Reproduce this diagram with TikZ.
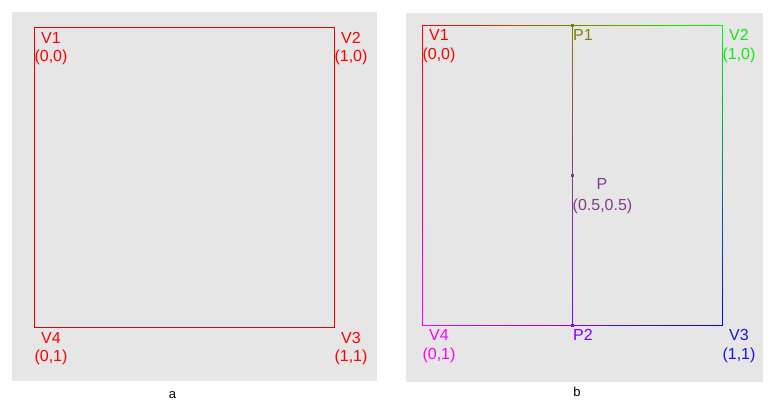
\documentclass[tikz,border=0pt]{standalone}
\usepackage{fontspec}
\setmainfont{Liberation Sans}
\definecolor{bggray}{RGB}{230,230,230}
\definecolor{vred}{RGB}{235,0,0}
\definecolor{cred}{RGB}{255,0,0}
\definecolor{cgreen}{RGB}{0,255,0}
\definecolor{cblue}{RGB}{0,0,255}
\definecolor{cmag}{RGB}{255,0,255}
\definecolor{colive}{RGB}{128,128,0}
\definecolor{cpurp}{RGB}{128,0,255}
\definecolor{cmid}{RGB}{128,64,128}
\definecolor{lgreen}{RGB}{20,230,20}
\definecolor{lblue}{RGB}{20,20,235}
\begin{document}
\begin{tikzpicture}[x=1pt,y=-1pt,
  lbl/.style={font=\fontsize{16}{16}\selectfont, inner sep=0pt, anchor=base},
  captext/.style={font=\fontsize{13}{13}\selectfont, inner sep=0pt, anchor=base, text=black},
  dotmark/.style={inner sep=0pt, minimum size=3pt, fill=#1}]
\useasboundingbox (0,0) rectangle (778,415);
\fill[white] (0,0) rectangle (778,415);
% panel a
\fill[bggray] (12,12) rectangle (377,381);
\coordinate (aV1) at (34.5,27.5);
\coordinate (aV3) at (334.5,327.5);
\draw[vred, line width=1pt] (aV1) rectangle (aV3);
\node[lbl, text=cred] (a1) at (51,43.3) {V1};
\node[lbl, text=cred] (a1c) at (51,61.7) {(0,0)};
\node[lbl, text=cred] (a2) at (351,43.3) {V2};
\node[lbl, text=cred] (a2c) at (351,61.7) {(1,0)};
\node[lbl, text=cred] (a4) at (51,343.3) {V4};
\node[lbl, text=cred] (a4c) at (51,361.7) {(0,1)};
\node[lbl, text=cred] (a3) at (351,343.3) {V3};
\node[lbl, text=cred] (a3c) at (351,361.7) {(1,1)};
\node[captext] (capa) at (172.5,398.7) {a};
% panel b
\fill[bggray] (406,13) rectangle (763,382);
% gradient edges built from short pixel-aligned pieces
\foreach \i in {0,...,99}{
  \pgfmathsetmacro\p{99.5-\i}
  \fill[cred!\p!cgreen] (422+3*\i,25) rectangle (425+3*\i,26);
  \fill[cmag!\p!cblue] (422+3*\i,325) rectangle (425+3*\i,326);
  \fill[cred!\p!cmag] (422,25+3*\i) rectangle (423,28+3*\i);
  \fill[cgreen!\p!cblue] (722,25+3*\i) rectangle (723,28+3*\i);
  \fill[colive!\p!cpurp] (572,25+3*\i) rectangle (573,28+3*\i);
}
\fill[cblue] (722,325) rectangle (723,326);
\node[dotmark=colive] (p1d) at (572.5,25.5) {};
\node[dotmark=cmid] (pd) at (572.5,175.5) {};
\node[dotmark=cpurp] (p2d) at (572.5,325.5) {};
\node[lbl, text=cred] (b1) at (439,40.7) {V1};
\node[lbl, text=cred] (b1c) at (439,59.3) {(0,0)};
\node[lbl, text=colive] (bp1) at (583,40.7) {P1};
\node[lbl, text=lgreen] (b2) at (739,40.7) {V2};
\node[lbl, text=lgreen] (b2c) at (739,59.3) {(1,0)};
\node[lbl, text=cmid] (bp) at (602,189) {P};
\node[lbl, text=cmid] (bpc) at (602.5,210) {(0.5,0.5)};
\node[lbl, text=cmag] (b4) at (439,340.7) {V4};
\node[lbl, text=cmag] (b4c) at (439,359.3) {(0,1)};
\node[lbl, text=cpurp] (bp2) at (583,340.7) {P2};
\node[lbl, text=lblue] (b3) at (739,340.7) {V3};
\node[lbl, text=lblue] (b3c) at (739,359.3) {(1,1)};
\node[captext] (capb) at (577,396.7) {b};
\end{tikzpicture}
\end{document}
